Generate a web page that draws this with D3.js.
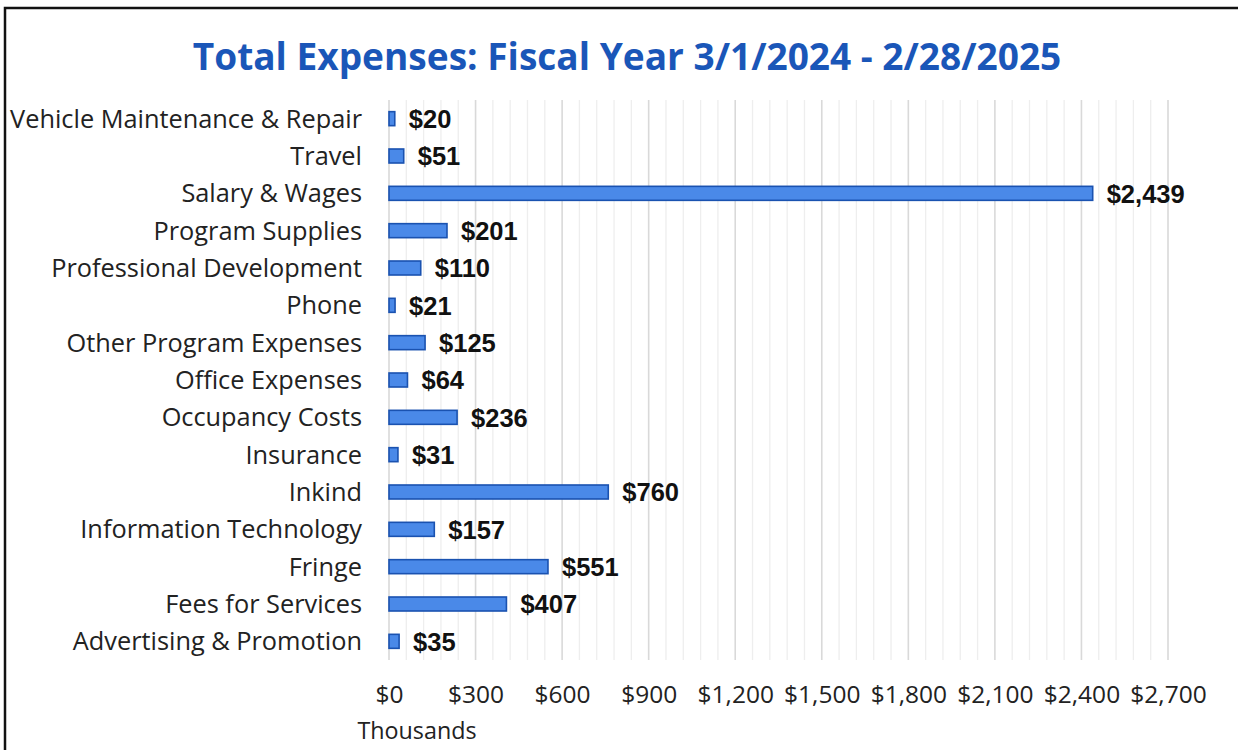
<!DOCTYPE html>
<html>
<head>
<meta charset="utf-8">
<script src="https://cdn.jsdelivr.net/npm/d3@7"></script>
<style>
  html, body { margin: 0; padding: 0; background: #fff; }
  svg { display: block; }
</style>
</head>
<body>
<svg id="chart" width="1238" height="750"></svg>
<script>
const categories = [
  "Vehicle Maintenance & Repair", "Travel", "Salary & Wages", "Program Supplies",
  "Professional Development", "Phone", "Other Program Expenses", "Office Expenses",
  "Occupancy Costs", "Insurance", "Inkind", "Information Technology", "Fringe",
  "Fees for Services", "Advertising & Promotion"
];
const values = [20, 51, 2439, 201, 110, 21, 125, 64, 236, 31, 760, 157, 551, 407, 35];
const tickValues = [0, 300, 600, 900, 1200, 1500, 1800, 2100, 2400, 2700];
const titleText = "Total Expenses: Fiscal Year 3/1/2024 - 2/28/2025";
const axisTitle = "Thousands";

const svg = d3.select("#chart");
const W = 1238, H = 750;
const plot = { left: 389, right: 1168, top: 100, bottom: 660 };

// border
svg.append("rect").attr("x", 5).attr("y", 8).attr("width", W + 20).attr("height", H + 20)
  .attr("fill", "none").attr("stroke", "#111").attr("stroke-width", 2.5);

const x = d3.scaleLinear().domain([0, 2700]).range([plot.left, plot.right]);
const y = d3.scaleBand().domain(categories).range([plot.top, plot.bottom]).paddingInner(0.6).paddingOuter(0.3);

// minor gridlines
const minor = d3.range(0, 2701, 60).filter(v => v % 300 !== 0);
svg.append("g").selectAll("line").data(minor).join("line")
  .attr("x1", d => x(d)).attr("x2", d => x(d))
  .attr("y1", plot.top).attr("y2", plot.bottom)
  .attr("stroke", "#eeeeee").attr("stroke-width", 1.3);

// major gridlines
svg.append("g").selectAll("line").data(tickValues).join("line")
  .attr("x1", d => x(d)).attr("x2", d => x(d))
  .attr("y1", plot.top).attr("y2", plot.bottom)
  .attr("stroke", "#d9d9d9").attr("stroke-width", 1.6);

// x axis labels
const xAxis = d3.axisBottom(x).tickValues(tickValues)
  .tickFormat(d => "$" + d3.format(",")(d)).tickSize(0).tickPadding(0);
const gx = svg.append("g").attr("transform", `translate(0,${plot.bottom + 24})`).call(xAxis);
gx.select(".domain").remove();
gx.selectAll("text").attr("font-family", "'Open Sans', sans-serif")
  .attr("font-size", 24.5).attr("fill", "#222").attr("dy", "0.78em");

// category labels
const yAxis = d3.axisLeft(y).tickSize(0).tickPadding(0);
const gy = svg.append("g").attr("transform", `translate(362,0)`).call(yAxis);
gy.select(".domain").remove();
const catTexts = gy.selectAll("text").attr("font-family", "'Open Sans', sans-serif")
  .attr("font-size", 21.5).attr("fill", "#222").attr("dy", "0.35em");
const maxW = d3.max(catTexts.nodes(), n => n.getComputedTextLength());
catTexts.attr("font-size", 21.5 * 352 / maxW);

// bars
const bandCenter = d => y(d) + y.bandwidth() / 2;
const barH = 14;
svg.append("g").selectAll("rect").data(values).join("rect")
  .attr("x", x(0))
  .attr("y", (d, i) => bandCenter(categories[i]) - barH / 2)
  .attr("width", d => x(d) - x(0))
  .attr("height", barH)
  .attr("fill", "#4a89e8").attr("stroke", "#1a52b0").attr("stroke-width", 1.6);

// data labels
svg.append("g").selectAll("text").data(values).join("text")
  .attr("x", d => x(d) + 14)
  .attr("y", (d, i) => bandCenter(categories[i]))
  .attr("dy", "0.36em")
  .attr("font-family", "'Liberation Sans', Arial, sans-serif")
  .attr("font-weight", "bold").attr("font-size", 25.5).attr("fill", "#111")
  .text(d => "$" + d3.format(",")(d));

// title
const title = svg.append("text").attr("x", 627).attr("y", 70).attr("text-anchor", "middle")
  .attr("font-family", "'Open Sans', sans-serif").attr("font-weight", "bold")
  .attr("font-size", 36).attr("fill", "#1a56b8").text(titleText);
const tw = title.node().getComputedTextLength();
title.attr("font-size", 36 * 869 / tw);

// axis title
svg.append("text").attr("x", 417).attr("y", 739).attr("text-anchor", "middle")
  .attr("font-family", "'Open Sans', sans-serif").attr("font-size", 23.3).attr("fill", "#222")
  .text(axisTitle);
</script>
</body>
</html>
